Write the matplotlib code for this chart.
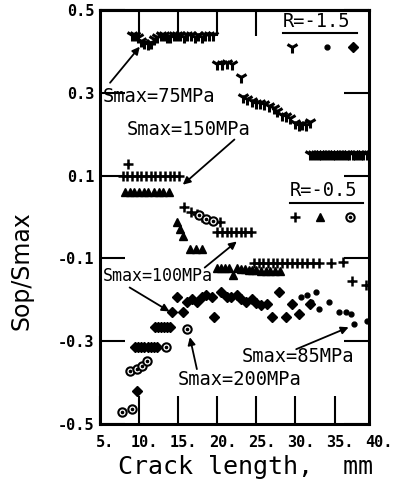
import matplotlib.pyplot as plt
from matplotlib.transforms import ScaledTranslation

plt.rcParams['font.family'] = 'DejaVu Sans Mono'

# ---------- data ----------
# R=-1.5, Smax=75MPa  ("Y" markers)
y75_x = [9.1, 9.5, 9.9, 10.3, 10.7, 11.1, 11.5, 11.9, 12.3, 12.8, 13.2, 13.6, 14.0,
         14.5, 14.9, 15.3, 15.8, 16.2, 16.6, 17.1, 17.5, 18.0, 18.5, 19.0, 19.5,
         20.0, 20.6, 21.2, 21.9, 23.0,
         23.3, 23.8, 24.4, 24.9, 25.5, 26.0, 26.6, 27.2, 27.7, 28.3, 28.8, 29.3,
         29.9, 30.4, 30.9, 31.4, 31.8,
         31.9, 32.3, 32.6, 33.0, 33.3, 33.7, 34.0, 34.4, 34.8, 35.1, 35.5, 35.8,
         36.2, 36.6, 36.9, 37.3, 37.6, 38.0, 38.4, 38.7, 39.1]
y75_y = [0.44, 0.44, 0.435, 0.425, 0.42, 0.418, 0.42, 0.43, 0.435, 0.44, 0.44, 0.435, 0.435,
         0.44, 0.44, 0.44, 0.435, 0.44, 0.44, 0.435, 0.44, 0.435, 0.44, 0.44, 0.44,
         0.37, 0.37, 0.372, 0.37, 0.338,
         0.290, 0.284, 0.280, 0.276, 0.275, 0.272, 0.268, 0.262, 0.255, 0.246, 0.243, 0.238,
         0.226, 0.222, 0.224, 0.221, 0.230,
         0.152, 0.152, 0.152, 0.152, 0.152, 0.152, 0.152, 0.152, 0.152, 0.152, 0.152, 0.152,
         0.152, 0.152, 0.152, 0.152, 0.152, 0.152, 0.152, 0.152, 0.152]

# R=-1.5, Smax=85MPa  (small dots)
d85_x = [30.7, 31.5, 32.6, 32.0, 33.0, 34.3, 35.6, 36.5, 37.1, 37.5, 39.1]
d85_y = [-0.192, -0.187, -0.182, -0.204, -0.223, -0.204, -0.230, -0.230, -0.235, -0.259, -0.252]

# R=-1.5, Smax=100MPa  (diamonds)
d100_x = [9.8, 9.5, 9.9, 10.3, 10.7, 11.1, 11.5, 11.9, 12.3,
          12.0, 12.4, 12.8, 13.2, 13.6, 14.0,
          14.2, 14.9, 15.6, 16.2, 16.8, 17.4, 18.0, 18.6, 19.6, 19.3, 20.5, 21.2,
          21.8, 22.5, 23.1, 23.7, 24.4, 25.0, 25.6, 26.4, 27.0, 27.9, 28.8, 29.6,
          30.5, 31.8]
d100_y = [-0.420, -0.314, -0.314, -0.314, -0.314, -0.314, -0.314, -0.314, -0.314,
          -0.266, -0.266, -0.266, -0.266, -0.266, -0.266,
          -0.228, -0.194, -0.228, -0.206, -0.199, -0.204, -0.192, -0.187, -0.242, -0.192,
          -0.182, -0.194, -0.194, -0.189, -0.199, -0.204, -0.199, -0.208, -0.213, -0.211,
          -0.242, -0.182, -0.242, -0.211, -0.235, -0.211]

# R=-0.5, Smax=150MPa / 100MPa  ("+" markers)
p_x = [8.6, 7.9, 8.5, 9.1, 9.7, 10.3, 10.9, 11.5, 12.1, 12.7, 13.3, 13.9, 14.5, 15.1,
       15.8, 16.6, 17.4, 18.1, 20.3,
       20.0, 20.6, 21.2, 21.8, 22.4, 23.0, 23.6, 24.3,
       24.7, 25.3, 25.9, 26.5, 27.1, 27.7, 28.3, 28.9, 29.5, 30.2, 30.8, 31.5, 32.2,
       33.0, 34.6, 36.1, 37.2, 39.0]
p_y = [0.127, 0.100, 0.100, 0.100, 0.100, 0.100, 0.100, 0.100, 0.100, 0.100, 0.100,
       0.100, 0.100, 0.100,
       0.025, 0.013, 0.008, 0.0, -0.012,
       -0.035, -0.035, -0.035, -0.035, -0.035, -0.035, -0.035, -0.035,
       -0.110, -0.110, -0.110, -0.110, -0.110, -0.110, -0.110, -0.110, -0.110, -0.110,
       -0.110, -0.110, -0.110, -0.110, -0.110, -0.108, -0.155, -0.165]

# R=-0.5  (triangles)
t_x = [8.2, 8.8, 9.4, 10.0, 10.6, 11.2, 11.9, 12.5, 13.1, 13.8,
       14.8, 15.2, 15.6, 16.5, 17.3, 18.1,
       20.0, 20.5, 21.0, 21.5, 22.0, 22.5, 23.0, 23.5, 24.0, 24.5, 25.0, 25.6,
       26.2, 26.8, 27.4, 28.0]
t_y = [0.061, 0.061, 0.061, 0.061, 0.061, 0.061, 0.061, 0.061, 0.061, 0.061,
       -0.013, -0.030, -0.045, -0.078, -0.078, -0.078,
       -0.122, -0.122, -0.122, -0.123, -0.140, -0.124, -0.125, -0.126, -0.127,
       -0.128, -0.129, -0.130, -0.131, -0.131, -0.131, -0.131]

# R=-0.5, Smax=200MPa  (circles with dot)
c200_x = [7.8, 9.1, 8.8, 9.7, 10.4, 11.0, 13.5, 16.2, 17.7, 18.6, 19.4]
c200_y = [-0.471, -0.464, -0.372, -0.367, -0.360, -0.348, -0.314, -0.271, 0.006, -0.004, -0.010]

x_ticks = [5, 10, 15, 20, 25, 30, 35]
x_labels = ['5.', '10.', '15.', '20.', '25.', '30.', '35.']
y_ticks = [-0.5, -0.3, -0.1, 0.1, 0.3, 0.5]
y_labels = ['-0.5', '-0.3', '-0.1', '0.1', '0.3', '0.5']

# ---------- figure ----------
fig = plt.figure(figsize=(3.98, 4.91), dpi=100)
ax = fig.add_axes([0.251, 0.136, 0.676, 0.844])

ax.plot(y75_x, y75_y, ls='none', marker='1', ms=9, mew=2.2, color='k')
ax.plot(d85_x, d85_y, ls='none', marker='o', ms=3.5, color='k')
ax.plot(d100_x, d100_y, ls='none', marker='D', ms=5.5, color='k')
ax.plot(p_x, p_y, ls='none', marker='+', ms=7, mew=1.8, color='k')
ax.plot(t_x, t_y, ls='none', marker='^', ms=5.5, color='k')
ax.plot(c200_x, c200_y, ls='none', marker='o', ms=6, mfc='white', mec='k', mew=1.5)
ax.plot(c200_x, c200_y, ls='none', marker='o', ms=1.6, color='k')

ax.set_xlim(5, 39.4)
ax.set_ylim(-0.5, 0.5)

ax.set_xticks(x_ticks, x_labels)
ax.set_yticks(y_ticks, y_labels)
ax.tick_params(axis='x', direction='in', length=20, width=1.5, pad=8,
               labelsize=11)
ax.tick_params(axis='y', direction='in', length=18, width=1.5, pad=4,
               labelsize=11, right=True)
shift = ScaledTranslation(4 / 72, 0, fig.dpi_scale_trans)
for lab in ax.get_xticklabels():
    lab.set_fontweight('bold')
    lab.set_transform(lab.get_transform() + shift)
for lab in ax.get_yticklabels():
    lab.set_fontweight('bold')
ax.annotate('40.', xy=(40, 0), xycoords=('data', 'axes fraction'),
            xytext=(4, -8), textcoords='offset points', ha='center', va='top',
            fontsize=11, fontweight='bold', annotation_clip=False)

top = ax.secondary_xaxis('top')
top.set_xticks([10, 15, 20, 25])
top.set_xticklabels([])
top.tick_params(direction='in', length=19, width=1.5)

for sp in list(ax.spines.values()) + list(top.spines.values()):
    sp.set_linewidth(2.2)

ax.set_xlabel('Crack length,  mm', fontsize=18)
ax.set_ylabel('Sop/Smax', fontsize=17, family='DejaVu Sans')
ax.yaxis.set_label_coords(-0.245, 0.37)
ax.xaxis.set_label_coords(0.54, -0.075)

# ---------- annotations ----------
arrow = dict(arrowstyle='-|>', color='k', lw=1.3, mutation_scale=11,
             shrinkA=0, shrinkB=0)
txt = dict(fontsize=13.5, va='center', ha='left')

ax.text(5.4, 0.290, 'Smax=75MPa', **txt)
ax.annotate('', xy=(10.1, 0.411), xytext=(6.3, 0.324), arrowprops=arrow)

ax.text(8.4, 0.211, 'Smax=150MPa', **txt)
ax.annotate('', xy=(15.6, 0.078), xytext=(22.2, 0.187), arrowprops=arrow)

ax.text(5.4, -0.143, 'Smax=100MPa', fontsize=12, va='center', ha='left')
ax.annotate('', xy=(22.5, -0.059), xytext=(18.4, -0.122), arrowprops=arrow)
ax.annotate('', xy=(13.9, -0.228), xytext=(8.8, -0.170), arrowprops=arrow)

ax.text(14.9, -0.392, 'Smax=200MPa', **txt)
ax.annotate('', xy=(16.5, -0.290), xytext=(17.4, -0.367), arrowprops=arrow)

ax.text(23.2, -0.336, 'Smax=85MPa', **txt)
ax.annotate('', xy=(36.8, -0.266), xytext=(30.1, -0.319), arrowprops=arrow)

# ---------- in-plot keys ----------
tr = ax.transAxes
ax.text(0.680, 0.971, 'R=-1.5', transform=tr, fontsize=13.5, va='center', ha='left')
ax.plot([0.680, 0.955], [0.944, 0.944], transform=tr, color='k', lw=1.5)
ax.plot([0.714], [0.910], transform=tr, marker='1', ms=9, mew=2.2, color='k')
ax.plot([0.844], [0.910], transform=tr, marker='o', ms=3.5, color='k')
ax.plot([0.941], [0.910], transform=tr, marker='D', ms=5.5, color='k')

ax.text(0.706, 0.565, 'R=-0.5', transform=tr, fontsize=13.5, va='center', ha='left')
ax.plot([0.706, 0.978], [0.534, 0.534], transform=tr, color='k', lw=1.5)
ax.plot([0.725], [0.500], transform=tr, marker='+', ms=7, mew=1.8, color='k')
ax.plot([0.818], [0.500], transform=tr, marker='^', ms=5.5, color='k')
ax.plot([0.929], [0.500], transform=tr, marker='o', ms=6, mfc='white', mec='k', mew=1.5)
ax.plot([0.929], [0.500], transform=tr, marker='o', ms=1.6, color='k')

fig.savefig('out.png', dpi=100)
